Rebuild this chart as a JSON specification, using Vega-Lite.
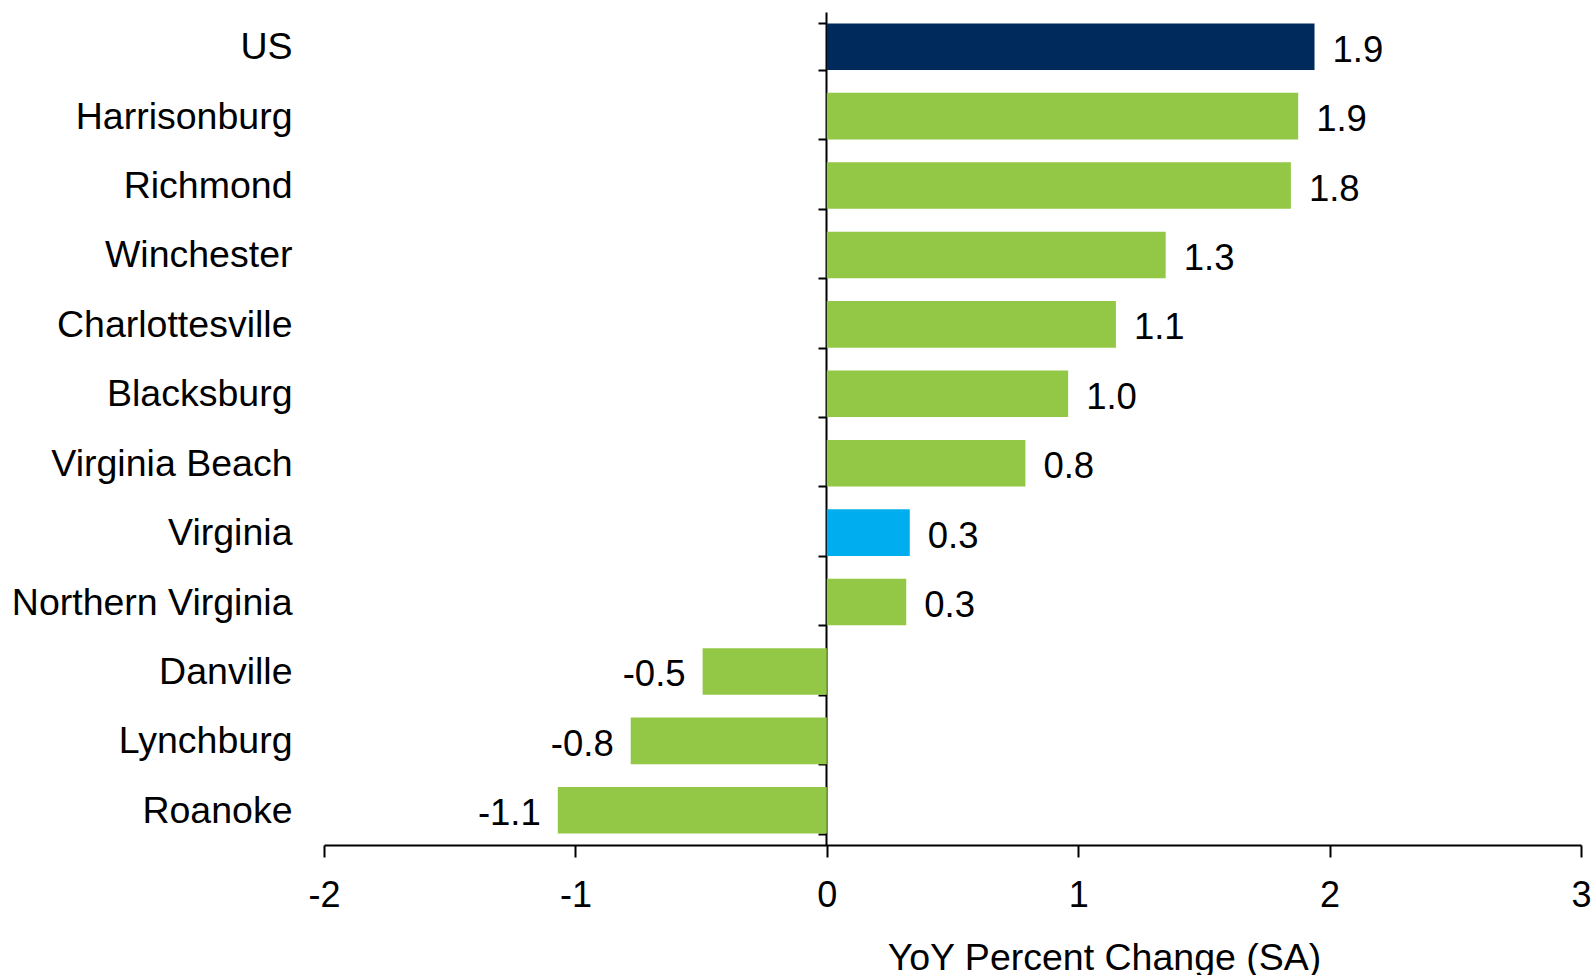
{
  "$schema": "https://vega.github.io/schema/vega-lite/v6.json",
  "width": 1257,
  "height": 833,
  "autosize": {"type": "none"},
  "padding": {"left": 324, "top": 12, "right": 15, "bottom": 130},
  "background": "white",
  "config": {
    "view": {"stroke": null},
    "font": "Liberation Sans",
    "text": {"font": "Liberation Sans"}
  },
  "data": {
    "values": [
      {"name": "US", "value": 1.94, "label": "1.9", "kind": "US"},
      {"name": "Harrisonburg", "value": 1.875, "label": "1.9", "kind": "Metro"},
      {"name": "Richmond", "value": 1.846, "label": "1.8", "kind": "Metro"},
      {"name": "Winchester", "value": 1.348, "label": "1.3", "kind": "Metro"},
      {"name": "Charlottesville", "value": 1.15, "label": "1.1", "kind": "Metro"},
      {"name": "Blacksburg", "value": 0.96, "label": "1.0", "kind": "Metro"},
      {"name": "Virginia Beach", "value": 0.79, "label": "0.8", "kind": "Metro"},
      {"name": "Virginia", "value": 0.33, "label": "0.3", "kind": "State"},
      {"name": "Northern Virginia", "value": 0.316, "label": "0.3", "kind": "Metro"},
      {"name": "Danville", "value": -0.494, "label": "-0.5", "kind": "Metro"},
      {"name": "Lynchburg", "value": -0.78, "label": "-0.8", "kind": "Metro"},
      {"name": "Roanoke", "value": -1.07, "label": "-1.1", "kind": "Metro"}
    ]
  },
  "encoding": {
    "y": {
      "field": "name",
      "type": "nominal",
      "sort": null,
      "scale": {"paddingInner": 0.33, "paddingOuter": 0.165},
      "axis": {
        "orient": "left",
        "offset": -502,
        "title": null,
        "domain": true,
        "domainColor": "black",
        "domainWidth": 2,
        "ticks": true,
        "tickBand": "extent",
        "tickSize": 8,
        "tickWidth": 2,
        "tickColor": "black",
        "labelPadding": 526,
        "labelLimit": 0,
        "labelFontSize": 37.5,
        "labelColor": "black",
        "labelFont": "Liberation Sans",
        "labelBaseline": "middle",
        "labelOffset": 1
      }
    }
  },
  "layer": [
    {
      "mark": {"type": "bar"},
      "encoding": {
        "x": {
          "field": "value",
          "type": "quantitative",
          "scale": {"domain": [-2, 3], "nice": false, "zero": false},
          "axis": {
            "values": [-2, -1, 0, 1, 2, 3],
            "labelExpr": "datum.value + ''",
            "grid": false,
            "domain": true,
            "domainColor": "black",
            "domainWidth": 2,
            "tickSize": 12,
            "tickWidth": 2,
            "tickColor": "black",
            "labelFontSize": 36,
            "labelColor": "black",
            "labelFont": "Liberation Sans",
            "labelBaseline": "alphabetic",
            "labelPadding": 49,
            "labelFlush": false,
            "title": "YoY Percent Change (SA)",
            "titleFont": "Liberation Sans",
            "titleFontSize": 37.5,
            "titleFontWeight": "normal",
            "titleColor": "black",
            "titleAnchor": "start",
            "titleAlign": "center",
            "titleX": 780,
            "titleY": 124,
            "titleBaseline": "alphabetic"
          }
        },
        "color": {
          "field": "kind",
          "type": "nominal",
          "scale": {"domain": ["US", "Metro", "State"], "range": ["#002A5C", "#93C846", "#00AEEF"]},
          "legend": null
        }
      }
    },
    {
      "transform": [{"filter": "datum.value >= 0"}],
      "mark": {"type": "text", "align": "left", "baseline": "middle", "dx": 18, "dy": 4, "fontSize": 36.5, "color": "black"},
      "encoding": {
        "x": {"field": "value", "type": "quantitative"},
        "text": {"field": "label"}
      }
    },
    {
      "transform": [{"filter": "datum.value < 0"}],
      "mark": {"type": "text", "align": "right", "baseline": "middle", "dx": -17, "dy": 4, "fontSize": 36.5, "color": "black"},
      "encoding": {
        "x": {"field": "value", "type": "quantitative"},
        "text": {"field": "label"}
      }
    }
  ]
}
